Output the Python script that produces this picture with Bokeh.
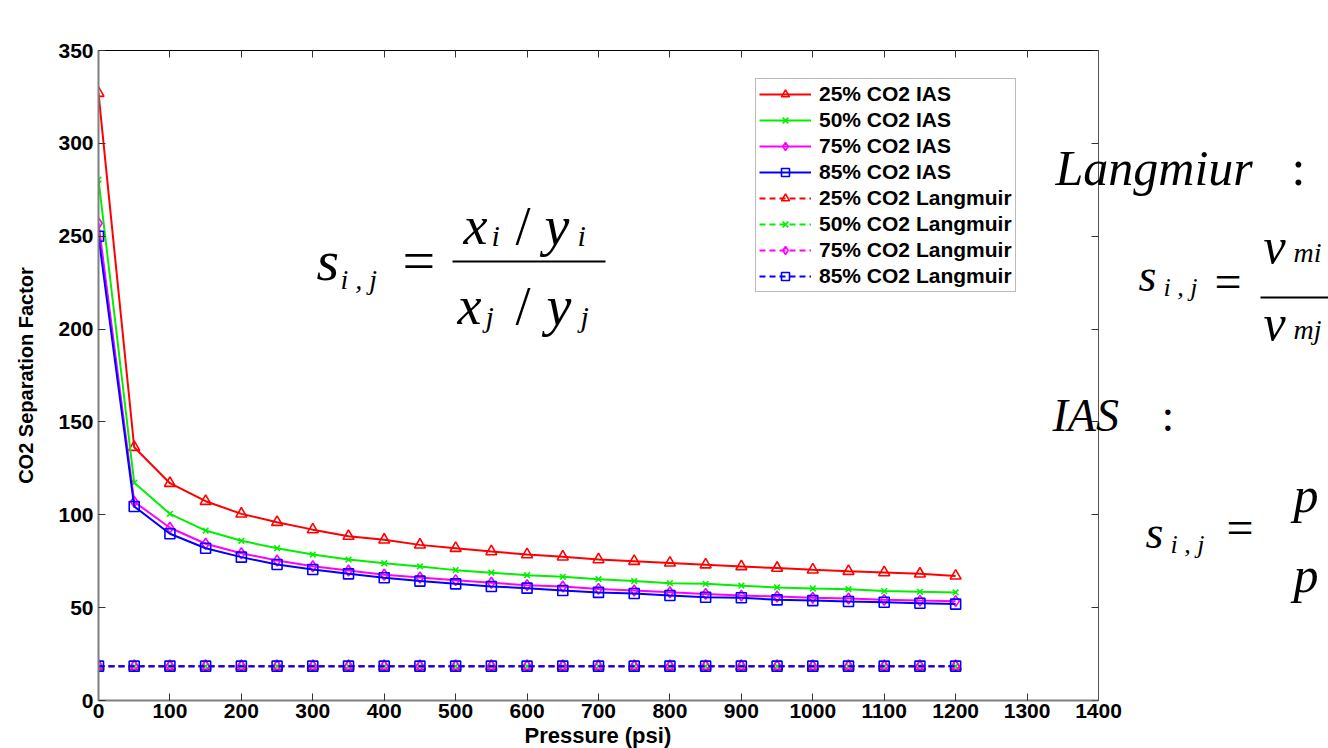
from bokeh.plotting import figure
from bokeh.models import (LinearAxis, Range1d, Legend, LegendItem, Label, Arrow,
                          FixedTicker, Title)
from bokeh.embed import file_html
from bokeh.resources import INLINE

# ---------------- data ----------------
pressure = [0, 50, 100, 150, 200, 250, 300, 350, 400, 450, 500, 550, 600,
            650, 700, 750, 800, 850, 900, 950, 1000, 1050, 1100, 1150, 1200]

ias_25 = [327, 136.4, 117, 107.3, 100.5, 96, 92, 88.5, 86.5, 83.8, 82, 80.2, 78.6,
          77.4, 75.9, 75.0, 74.1, 73.1, 72.2, 71.3, 70.4, 69.6, 68.9, 68.2, 67.1]
ias_50 = [280.5, 117.2, 100.5, 91.5, 86, 82, 78.6, 75.9, 73.9, 72.2, 70.2, 68.8, 67.5,
          66.6, 65.3, 64.3, 63.2, 62.8, 61.8, 60.9, 60.3, 59.9, 58.9, 58.5, 58.2]
ias_75 = [257, 107, 93, 84.4, 79.3, 75.4, 72.3, 70, 67.7, 66.2, 64.8, 63.4, 62.1,
          61.4, 60.1, 59.2, 58.3, 57.4, 56.5, 56, 55.3, 54.9, 54.2, 53.8, 53.5]
ias_85 = [250, 104.5, 89.8, 82, 77.2, 73.2, 70.5, 68.2, 66.1, 64.3, 62.8, 61.4, 60.5,
          59.2, 58.2, 57.6, 56.5, 55.6, 55.3, 54.2, 53.8, 53.3, 52.9, 52.4, 51.9]

lang_25 = [18.5, 18.5, 18.5, 18.5, 18.5, 18.5, 18.5, 18.5, 18.5, 18.5, 18.5, 18.5, 18.5,
           18.5, 18.5, 18.5, 18.5, 18.5, 18.5, 18.5, 18.5, 18.5, 18.5, 18.5, 18.5]
lang_50 = [18.5, 18.5, 18.5, 18.5, 18.5, 18.5, 18.5, 18.5, 18.5, 18.5, 18.5, 18.5, 18.5,
           18.5, 18.5, 18.5, 18.5, 18.5, 18.5, 18.5, 18.5, 18.5, 18.5, 18.5, 18.5]
lang_75 = [18.5, 18.5, 18.5, 18.5, 18.5, 18.5, 18.5, 18.5, 18.5, 18.5, 18.5, 18.5, 18.5,
           18.5, 18.5, 18.5, 18.5, 18.5, 18.5, 18.5, 18.5, 18.5, 18.5, 18.5, 18.5]
lang_85 = [18.5, 18.5, 18.5, 18.5, 18.5, 18.5, 18.5, 18.5, 18.5, 18.5, 18.5, 18.5, 18.5,
           18.5, 18.5, 18.5, 18.5, 18.5, 18.5, 18.5, 18.5, 18.5, 18.5, 18.5, 18.5]

series_labels = ["25% CO2 IAS", "50% CO2 IAS", "75% CO2 IAS", "85% CO2 IAS",
                 "25% CO2 Langmuir", "50% CO2 Langmuir", "75% CO2 Langmuir",
                 "85% CO2 Langmuir"]
x_ticks = [0, 100, 200, 300, 400, 500, 600, 700, 800, 900, 1000, 1100, 1200, 1300, 1400]
y_ticks = [0, 50, 100, 150, 200, 250, 300, 350]
x_axis_max = 1400
y_axis_max = 350
x_title = "Pressure (psi)"
y_title = "CO2 Separation Factor"

# ---------------- figure ----------------
SANS = "Liberation Sans"
SERIF = "Liberation Serif"
W, H = 1328, 748
FL, FT, FB = 98, 50, 700          # frame left/top/bottom (page px)
AXR = 1098                          # where the axis box ends on the right (page px)
# the frame runs to the page edge so that the formula text on the right can be drawn;
# the x range is widened so that 0..1400 spans FL..AXR
x_end = x_axis_max * (W - FL) / (AXR - FL)

p = figure(width=W, height=H, output_backend="svg", toolbar_location=None,
           x_range=Range1d(0, x_end), y_range=Range1d(0, y_axis_max),
           min_border_left=FL, min_border_right=0,
           min_border_top=FT, min_border_bottom=H - FB)
p.xgrid.visible = False
p.ygrid.visible = False
p.outline_line_color = None
p.background_fill_color = "white"

for ax in (p.xaxis[0], p.yaxis[0]):
    ax.major_label_text_font = SANS
    ax.major_label_text_font_style = "bold"
    ax.major_label_text_font_size = "21px"
    ax.major_label_text_color = "black"
    ax.axis_line_color = "#7f7f7f"
    ax.axis_line_width = 2
    ax.major_tick_line_color = "#333333"
    ax.major_tick_in = 7
    ax.major_tick_out = 0
    ax.minor_tick_in = 0
    ax.minor_tick_out = 0
    ax.axis_label_text_font = SANS
    ax.axis_label_text_font_style = "bold"
    ax.axis_label_text_color = "black"

p.xaxis[0].ticker = FixedTicker(ticks=x_ticks)
p.xaxis[0].bounds = (0, x_axis_max)
p.xaxis[0].major_label_standoff = 3
p.yaxis[0].ticker = FixedTicker(ticks=y_ticks)
p.yaxis[0].axis_label = y_title
p.yaxis[0].axis_label_text_font_size = "20px"
p.yaxis[0].axis_label_standoff = 18
p.yaxis[0].major_label_standoff = 5

# x-axis title, centred under the 0..1400 axis (not under the widened frame)
p.add_layout(Title(text=x_title, align="left", offset=426, standoff=1,
                   text_font=SANS, text_font_style="bold", text_font_size="22px",
                   text_color="black"), "below")

top_ax = LinearAxis(ticker=FixedTicker(ticks=x_ticks), bounds=(0, x_axis_max),
                    major_label_text_font_size="0px", major_label_standoff=0,
                    major_tick_in=7, major_tick_out=0, minor_tick_in=0, minor_tick_out=0,
                    axis_line_color="black", major_tick_line_color="#333333")
right_ax = LinearAxis(ticker=FixedTicker(ticks=y_ticks), fixed_location=x_axis_max,
                      major_label_text_font_size="0px", major_label_standoff=0,
                      major_tick_in=7, major_tick_out=0, minor_tick_in=0, minor_tick_out=0,
                      axis_line_color="#555555", major_tick_line_color="#333333")
p.add_layout(top_ax, "above")
p.add_layout(right_ax, "right")

# ---------------- series ----------------
colors = ["#ff0000", "#00f000", "#ff00ff", "#0000ff"]
markers = ["triangle", "x", "diamond", "square"]
msizes = [11, 8, 11, 10]
all_series = [ias_25, ias_50, ias_75, ias_85, lang_25, lang_50, lang_75, lang_85]

items = []
for k, ys in enumerate(all_series):
    c = colors[k % 4]
    dash = "solid" if k < 4 else "6 4"
    lr = p.line(pressure, ys, line_color=c, line_width=2, line_dash=dash)
    sr = p.scatter(pressure, ys, marker=markers[k % 4], size=msizes[k % 4],
                   line_color=c, line_width=1.6, fill_color=None)
    items.append(LegendItem(label=series_labels[k], renderers=[lr, sr]))

legend = Legend(items=items, location=(657, 408), orientation="vertical",
                label_text_font=SANS, label_text_font_style="bold",
                label_text_font_size="21px", label_text_color="black",
                glyph_width=52, glyph_height=20, label_height=20, label_standoff=8,
                spacing=2, padding=3, margin=0,
                border_line_color="#777777", border_line_width=1,
                background_fill_color="white", background_fill_alpha=1)
p.add_layout(legend)

# ---------------- formula annotations (page pixel positions, screen units) ----------------
SHIFT = 18  # baseline correction


def tex(px, py, text, size, italic=True):
    p.add_layout(Label(x=px - FL, y=FB - (py - SHIFT), x_units="screen", y_units="screen",
                       text=text, text_font=SERIF,
                       text_font_style="italic" if italic else "normal",
                       text_font_size=f"{size}px", text_color="black",
                       text_baseline="alphabetic", text_align="left",
                       level="overlay"))


def hline(px0, px1, py, w=2):
    p.add_layout(Arrow(x_start=px0 - FL, y_start=FB - py, x_end=px1 - FL, y_end=FB - py,
                       start_units="screen", end_units="screen",
                       start=None, end=None, line_color="black", line_width=w,
                       level="overlay"))


# main formula  s_{i,j} = (x_i / y_i) / (x_j / y_j)
tex(316, 278, "s", 58)
tex(340, 297, "i , j", 28)
tex(402, 278, "=", 58, italic=False)
tex(463, 243, "x", 54)
tex(491, 253, "i", 30)
tex(515, 243, "/", 54, italic=False)
tex(544, 243, "y", 56)
tex(577, 253, "i", 30)
hline(452, 605, 261, 2)
tex(457, 323, "x", 54)
tex(485, 334, "j", 30)
tex(515, 323, "/", 54, italic=False)
tex(546, 323, "y", 56)
tex(580, 334, "j", 30)

# right side: Langmuir
tex(1055, 185, "Langmiur", 50)
tex(1291, 185, ":", 50, italic=False)
tex(1138, 293, "s", 46)
tex(1163, 305, "i , j", 26)
tex(1214, 299, "=", 48, italic=False)
tex(1263, 263, "v", 50)
tex(1293, 270, "mi", 28)
hline(1260, 1340, 297, 2)
tex(1263, 340, "v", 50)
tex(1293, 347, "mj", 28)

# right side: IAS
tex(1052, 433, "IAS", 46)
tex(1161, 433, ":", 46, italic=False)
tex(1145, 550, "s", 46)
tex(1170, 562, "i , j", 26)
tex(1226, 545, "=", 48, italic=False)
tex(1293, 512, "p", 50)
tex(1293, 592, "p", 50)

open("out.html", "w").write(file_html(p, INLINE))
